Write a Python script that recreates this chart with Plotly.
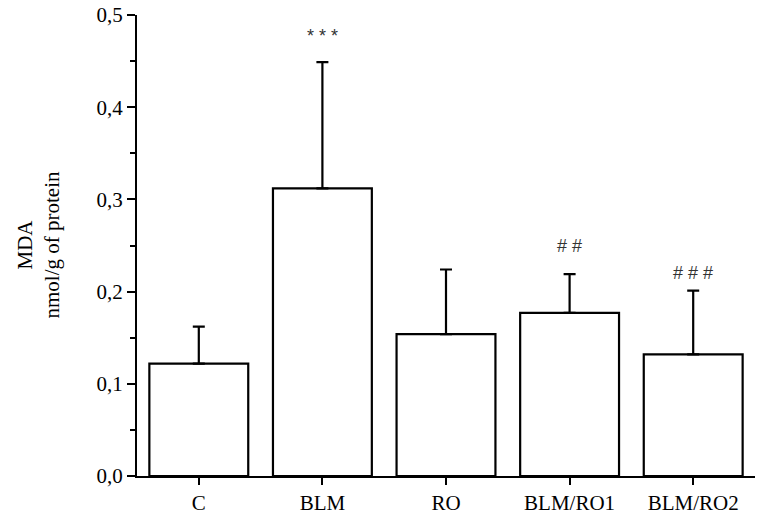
import plotly.graph_objects as go

categories = ["C", "BLM", "RO", "BLM/RO1", "BLM/RO2"]
mda_mean = [0.122, 0.312, 0.154, 0.177, 0.132]
mda_sd = [0.040, 0.137, 0.070, 0.042, 0.069]
sig_marks = ["", "* * *", "", "# #", "# # #"]
sig_shift = [0, 26, 0, 28, 18]
y_ticks = [0.0, 0.1, 0.2, 0.3, 0.4, 0.5]
y_ticklabels = ["0,0", "0,1", "0,2", "0,3", "0,4", "0,5"]

serif = "Liberation Serif, Times New Roman, serif"

fig = go.Figure()
fig.add_trace(go.Bar(
    x=list(range(len(categories))), y=mda_mean, width=0.8,
    marker=dict(color="white", line=dict(color="black", width=2.2)),
    error_y=dict(type="data", array=mda_sd, arrayminus=[0]*len(mda_sd),
                 symmetric=False, color="black", thickness=2.2, width=6),
    showlegend=False,
))

for i, (m, s, t, sh) in enumerate(zip(mda_mean, mda_sd, sig_marks, sig_shift)):
    if t:
        fig.add_annotation(x=i, y=m + s, text=t, showarrow=False,
                           yshift=sh, yanchor="middle",
                           font=dict(family="Liberation Sans, Arial, sans-serif", size=18, color="#333"))

fig.add_annotation(xref="paper", yref="paper", x=0, y=0.5, xshift=-99,
                   text="MDA<br>nmol/g of protein", textangle=-90, showarrow=False,
                   xanchor="center", yanchor="middle",
                   font=dict(family=serif, size=21, color="black"))

fig.update_layout(
    width=760, height=515,
    margin=dict(l=137, r=5, t=15, b=39, autoexpand=False),
    paper_bgcolor="white", plot_bgcolor="white",
    font=dict(family=serif, size=21, color="black"),
)
fig.update_xaxes(
    range=[-0.5, 4.5], tickmode="array", tickvals=list(range(len(categories))),
    ticktext=categories, showline=True, linecolor="black", linewidth=2,
    ticks="outside", ticklen=7, tickwidth=2, tickcolor="black",
    showgrid=False, zeroline=False, tickfont=dict(family=serif, size=21),
    ticklabeloverflow="allow", automargin=False,
)
fig.update_yaxes(
    range=[0, 0.5001], tickmode="array", tickvals=y_ticks, ticktext=y_ticklabels,
    showline=True, linecolor="black",
    linewidth=2, ticks="outside", ticklen=8, tickwidth=2, tickcolor="black",
    minor=dict(tickmode="array", tickvals=[0.05, 0.15, 0.25, 0.35, 0.45],
               ticks="outside", ticklen=5, tickwidth=2, tickcolor="black", showgrid=False),
    showgrid=False, zeroline=False, tickfont=dict(family=serif, size=21),
    ticklabeloverflow="allow", automargin=False,
)

fig.write_html("out.html", config={"displayModeBar": False},
               post_script="document.body.style.margin='0';document.body.style.overflow='hidden';")
